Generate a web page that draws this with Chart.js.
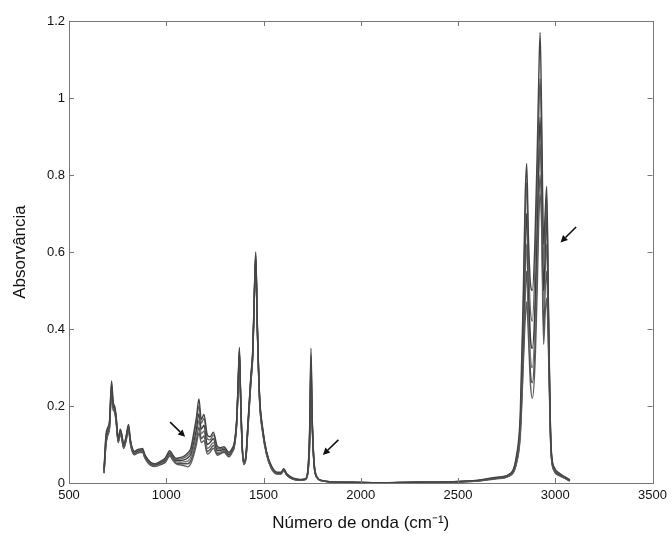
<!DOCTYPE html>
<html>
<head>
<meta charset="utf-8">
<script src="https://cdn.jsdelivr.net/npm/chart.js@4.4.1/dist/chart.umd.min.js"></script>
<style>
  html, body { margin: 0; padding: 0; background: #fff; }
  #wrap { width: 672px; height: 538px; }
</style>
</head>
<body>
<div id="wrap"><canvas id="ftirChart" width="672" height="538"></canvas></div>
<script>
// wavenumbers (cm-1) shared by every spectrum
const wavenumbers = [
  680, 690, 700, 708, 719, 727, 734, 742, 753, 764,
  772, 781, 793, 806, 815, 823, 836, 850, 862, 878,
  890, 905, 920, 940, 972, 995, 1018, 1035, 1050, 1070,
  1092, 1110, 1126, 1143, 1155, 1168, 1180, 1194, 1211, 1225,
  1242, 1263, 1280, 1297, 1322, 1339, 1350, 1362, 1370, 1376,
  1382, 1390, 1399, 1410, 1420, 1435, 1445, 1453, 1460, 1468,
  1480, 1495, 1515, 1540, 1570, 1590, 1604, 1620, 1650, 1690,
  1715, 1728, 1737, 1744, 1751, 1760, 1775, 1800, 1850, 1950,
  2100, 2300, 2450, 2600, 2700, 2760, 2800, 2820, 2835, 2845,
  2853, 2862, 2872, 2882, 2895, 2908, 2915, 2922, 2930, 2940,
  2948, 2956, 2965, 2978, 2995, 3020, 3050, 3075
];

// absorbance of each sample
const sample1 = [
  0.035, 0.125, 0.145, 0.16, 0.265, 0.21, 0.2, 0.175, 0.115, 0.14,
  0.125, 0.1, 0.12, 0.152, 0.115, 0.095, 0.082, 0.086, 0.088, 0.09,
  0.074, 0.062, 0.054, 0.05, 0.057, 0.065, 0.084, 0.072, 0.064, 0.066,
  0.07, 0.078, 0.09, 0.135, 0.17, 0.218, 0.165, 0.178, 0.125, 0.12,
  0.132, 0.095, 0.092, 0.094, 0.08, 0.09, 0.105, 0.165, 0.27, 0.352,
  0.24, 0.105, 0.056, 0.075, 0.155, 0.28, 0.35, 0.5, 0.6, 0.42,
  0.225, 0.145, 0.083, 0.045, 0.028, 0.028, 0.037, 0.024, 0.013, 0.009,
  0.011, 0.035, 0.14, 0.35, 0.16, 0.05, 0.015, 0.007, 0.003, 0.002,
  0.001, 0.002, 0.003, 0.007, 0.015, 0.022, 0.07, 0.18, 0.48, 0.74,
  0.83, 0.64, 0.52, 0.5, 0.62, 0.88, 1.05, 1.17, 0.95, 0.62,
  0.7, 0.77, 0.46, 0.1, 0.04, 0.026, 0.016, 0.008
];
const sample2 = [
  0.032, 0.118, 0.14, 0.155, 0.258, 0.205, 0.198, 0.172, 0.113, 0.138,
  0.122, 0.097, 0.118, 0.148, 0.112, 0.092, 0.08, 0.084, 0.086, 0.087,
  0.072, 0.06, 0.052, 0.049, 0.055, 0.062, 0.081, 0.069, 0.061, 0.062,
  0.065, 0.072, 0.083, 0.125, 0.158, 0.2, 0.155, 0.168, 0.115, 0.112,
  0.125, 0.09, 0.089, 0.091, 0.077, 0.088, 0.102, 0.162, 0.265, 0.345,
  0.235, 0.102, 0.054, 0.072, 0.152, 0.275, 0.345, 0.495, 0.595, 0.415,
  0.222, 0.142, 0.081, 0.043, 0.027, 0.027, 0.036, 0.023, 0.012, 0.008,
  0.01, 0.032, 0.13, 0.33, 0.15, 0.047, 0.014, 0.006, 0.003, 0.002,
  0.001, 0.002, 0.003, 0.006, 0.014, 0.021, 0.065, 0.16, 0.44, 0.68,
  0.78, 0.58, 0.45, 0.42, 0.55, 0.8, 0.95, 1.05, 0.88, 0.56,
  0.66, 0.74, 0.44, 0.095, 0.037, 0.024, 0.015, 0.007
];
const sample3 = [
  0.03, 0.11, 0.135, 0.15, 0.25, 0.2, 0.195, 0.17, 0.11, 0.135,
  0.12, 0.095, 0.115, 0.145, 0.11, 0.09, 0.078, 0.082, 0.084, 0.085,
  0.07, 0.058, 0.05, 0.047, 0.053, 0.06, 0.078, 0.066, 0.058, 0.058,
  0.06, 0.065, 0.075, 0.11, 0.14, 0.18, 0.14, 0.15, 0.1, 0.105,
  0.115, 0.085, 0.085, 0.088, 0.074, 0.085, 0.1, 0.16, 0.26, 0.34,
  0.23, 0.1, 0.052, 0.07, 0.15, 0.27, 0.34, 0.49, 0.59, 0.41,
  0.22, 0.14, 0.08, 0.042, 0.026, 0.026, 0.035, 0.022, 0.012, 0.008,
  0.01, 0.03, 0.12, 0.31, 0.14, 0.045, 0.014, 0.006, 0.003, 0.002,
  0.001, 0.002, 0.003, 0.006, 0.013, 0.02, 0.06, 0.15, 0.38, 0.6,
  0.7, 0.52, 0.38, 0.35, 0.45, 0.7, 0.85, 0.95, 0.8, 0.5,
  0.6, 0.7, 0.42, 0.09, 0.035, 0.022, 0.014, 0.006
];
const sample4 = [
  0.028, 0.105, 0.13, 0.145, 0.245, 0.197, 0.19, 0.165, 0.108, 0.132,
  0.117, 0.093, 0.112, 0.142, 0.107, 0.088, 0.076, 0.08, 0.082, 0.083,
  0.068, 0.056, 0.048, 0.045, 0.051, 0.057, 0.075, 0.063, 0.055, 0.054,
  0.055, 0.057, 0.066, 0.097, 0.125, 0.162, 0.128, 0.135, 0.09, 0.095,
  0.105, 0.08, 0.081, 0.085, 0.071, 0.083, 0.098, 0.157, 0.258, 0.335,
  0.228, 0.098, 0.05, 0.068, 0.147, 0.267, 0.337, 0.487, 0.585, 0.405,
  0.215, 0.137, 0.078, 0.04, 0.025, 0.025, 0.034, 0.021, 0.011, 0.008,
  0.01, 0.028, 0.11, 0.28, 0.145, 0.05, 0.015, 0.006, 0.003, 0.002,
  0.001, 0.002, 0.003, 0.006, 0.012, 0.019, 0.055, 0.14, 0.35, 0.54,
  0.62, 0.47, 0.33, 0.3, 0.4, 0.64, 0.79, 0.88, 0.74, 0.45,
  0.55, 0.62, 0.4, 0.085, 0.033, 0.021, 0.013, 0.006
];
const sample5 = [
  0.026, 0.1, 0.128, 0.142, 0.24, 0.193, 0.187, 0.162, 0.106, 0.13,
  0.114, 0.091, 0.11, 0.14, 0.105, 0.086, 0.074, 0.078, 0.08, 0.081,
  0.066, 0.054, 0.047, 0.044, 0.049, 0.055, 0.072, 0.06, 0.052, 0.05,
  0.05, 0.05, 0.058, 0.086, 0.112, 0.145, 0.115, 0.122, 0.082, 0.087,
  0.097, 0.076, 0.078, 0.082, 0.069, 0.081, 0.096, 0.153, 0.254, 0.33,
  0.224, 0.096, 0.049, 0.066, 0.143, 0.263, 0.333, 0.483, 0.58, 0.402,
  0.212, 0.135, 0.076, 0.039, 0.024, 0.024, 0.033, 0.02, 0.01, 0.007,
  0.009, 0.026, 0.1, 0.26, 0.148, 0.052, 0.015, 0.006, 0.003, 0.001,
  0.001, 0.002, 0.002, 0.005, 0.012, 0.018, 0.052, 0.13, 0.32, 0.48,
  0.55, 0.42, 0.29, 0.26, 0.35, 0.58, 0.73, 0.8, 0.7, 0.4,
  0.5, 0.55, 0.37, 0.082, 0.031, 0.02, 0.012, 0.005
];
const sample6 = [
  0.025, 0.1, 0.125, 0.14, 0.235, 0.19, 0.185, 0.16, 0.105, 0.128,
  0.112, 0.09, 0.108, 0.138, 0.104, 0.085, 0.073, 0.077, 0.079, 0.08,
  0.065, 0.053, 0.046, 0.043, 0.048, 0.053, 0.07, 0.058, 0.05, 0.047,
  0.045, 0.042, 0.05, 0.075, 0.1, 0.13, 0.105, 0.11, 0.075, 0.08,
  0.09, 0.072, 0.076, 0.08, 0.068, 0.08, 0.094, 0.15, 0.25, 0.325,
  0.22, 0.095, 0.048, 0.065, 0.14, 0.26, 0.33, 0.48, 0.575, 0.4,
  0.21, 0.132, 0.075, 0.038, 0.023, 0.023, 0.032, 0.02, 0.01, 0.007,
  0.009, 0.025, 0.09, 0.24, 0.15, 0.055, 0.016, 0.006, 0.003, 0.001,
  0.001, 0.002, 0.002, 0.005, 0.011, 0.017, 0.05, 0.12, 0.3, 0.42,
  0.47, 0.38, 0.26, 0.22, 0.3, 0.52, 0.68, 0.75, 0.66, 0.36,
  0.44, 0.48, 0.34, 0.08, 0.03, 0.019, 0.012, 0.005
];

const samples = [sample1, sample2, sample3, sample4, sample5, sample6];
const lineColors = ['#444444', '#666666', '#3a3a3a', '#757575', '#505050', '#5e5e5e'];

const xTicks = [500, 1000, 1500, 2000, 2500, 3000, 3500];
const yTicks = [0, 0.2, 0.4, 0.6, 0.8, 1, 1.2];

// arrows marking the bands that change (tail -> head, in data units)
const arrowTails = [[1020, 0.158], [1885, 0.112], [3107, 0.665]];
const arrowHeads = [[1097, 0.12], [1805, 0.073], [3027, 0.625]];

const datasets = samples.map((vals, i) => ({
  label: 'Amostra ' + (i + 1),
  data: wavenumbers.map((w, j) => ({ x: w, y: vals[j] })),
  borderColor: lineColors[i],
  borderWidth: 1.4,
  pointRadius: 0,
  fill: false,
  cubicInterpolationMode: 'monotone'
}));

// MATLAB style frame: box, inward ticks on all sides, arrows
const framePlugin = {
  id: 'frame',
  afterDatasetsDraw(chart) {
    const ctx = chart.ctx;
    const a = chart.chartArea;
    const xs = chart.scales.x, ys = chart.scales.y;
    const len = 5;
    ctx.save();
    ctx.strokeStyle = '#777';
    ctx.lineWidth = 1;
    ctx.strokeRect(Math.round(a.left) + 0.5, Math.round(a.top) + 0.5,
      Math.round(a.right - a.left), Math.round(a.bottom - a.top));
    ctx.beginPath();
    xTicks.forEach(v => {
      const px = Math.round(xs.getPixelForValue(v)) + 0.5;
      ctx.moveTo(px, a.bottom); ctx.lineTo(px, a.bottom - len);
      ctx.moveTo(px, a.top); ctx.lineTo(px, a.top + len);
    });
    yTicks.forEach(v => {
      const py = Math.round(ys.getPixelForValue(v)) + 0.5;
      ctx.moveTo(a.left, py); ctx.lineTo(a.left + len, py);
      ctx.moveTo(a.right, py); ctx.lineTo(a.right - len, py);
    });
    ctx.stroke();

    ctx.strokeStyle = '#111';
    ctx.fillStyle = '#111';
    ctx.lineWidth = 1.6;
    arrowTails.forEach((t, i) => {
      const x0 = xs.getPixelForValue(t[0]), y0 = ys.getPixelForValue(t[1]);
      const x1 = xs.getPixelForValue(arrowHeads[i][0]), y1 = ys.getPixelForValue(arrowHeads[i][1]);
      const ang = Math.atan2(y1 - y0, x1 - x0);
      const hl = 7, hw = 3.5;
      const bx = x1 - hl * Math.cos(ang), by = y1 - hl * Math.sin(ang);
      ctx.beginPath();
      ctx.moveTo(x0, y0); ctx.lineTo(bx, by);
      ctx.stroke();
      ctx.beginPath();
      ctx.moveTo(x1, y1);
      ctx.lineTo(bx + hw * Math.sin(ang), by - hw * Math.cos(ang));
      ctx.lineTo(bx - hw * Math.sin(ang), by + hw * Math.cos(ang));
      ctx.closePath();
      ctx.fill();
    });
    ctx.restore();
  }
};

const tickFont = { family: '"Liberation Sans", Arial, sans-serif', size: 13 };

new Chart(document.getElementById('ftirChart').getContext('2d'), {
  type: 'line',
  data: { datasets: datasets },
  plugins: [framePlugin],
  options: {
    responsive: false,
    animation: false,
    layout: { padding: { top: 21, right: 17, bottom: 0, left: 0 } },
    plugins: {
      legend: { display: false },
      tooltip: { enabled: false }
    },
    scales: {
      x: {
        type: 'linear',
        min: 500,
        max: 3500,
        afterBuildTicks: s => { s.ticks = xTicks.map(v => ({ value: v })); },
        afterFit: s => { s.height = 55; },
        grid: { display: false, drawTicks: false },
        border: { display: false },
        ticks: {
          color: '#111',
          font: tickFont,
          padding: 5,
          maxRotation: 0,
          callback: v => String(v)
        },
        title: {
          display: true,
          text: 'Número de onda (cm⁻¹)',
          color: '#111',
          font: { family: '"Liberation Sans", Arial, sans-serif', size: 17 },
          padding: { top: 0, bottom: 4 }
        }
      },
      y: {
        min: 0,
        max: 1.2,
        afterBuildTicks: s => { s.ticks = yTicks.map(v => ({ value: v })); },
        afterFit: s => { s.width = 69; },
        grid: { display: false, drawTicks: false },
        border: { display: false },
        ticks: {
          color: '#111',
          font: tickFont,
          padding: 4,
          callback: v => String(Number(v.toFixed(1)))
        },
        title: {
          display: true,
          text: 'Absorvância',
          color: '#111',
          font: { family: '"Liberation Sans", Arial, sans-serif', size: 17 },
          padding: { top: 10, bottom: 0 }
        }
      }
    }
  }
});
</script>
</body>
</html>
